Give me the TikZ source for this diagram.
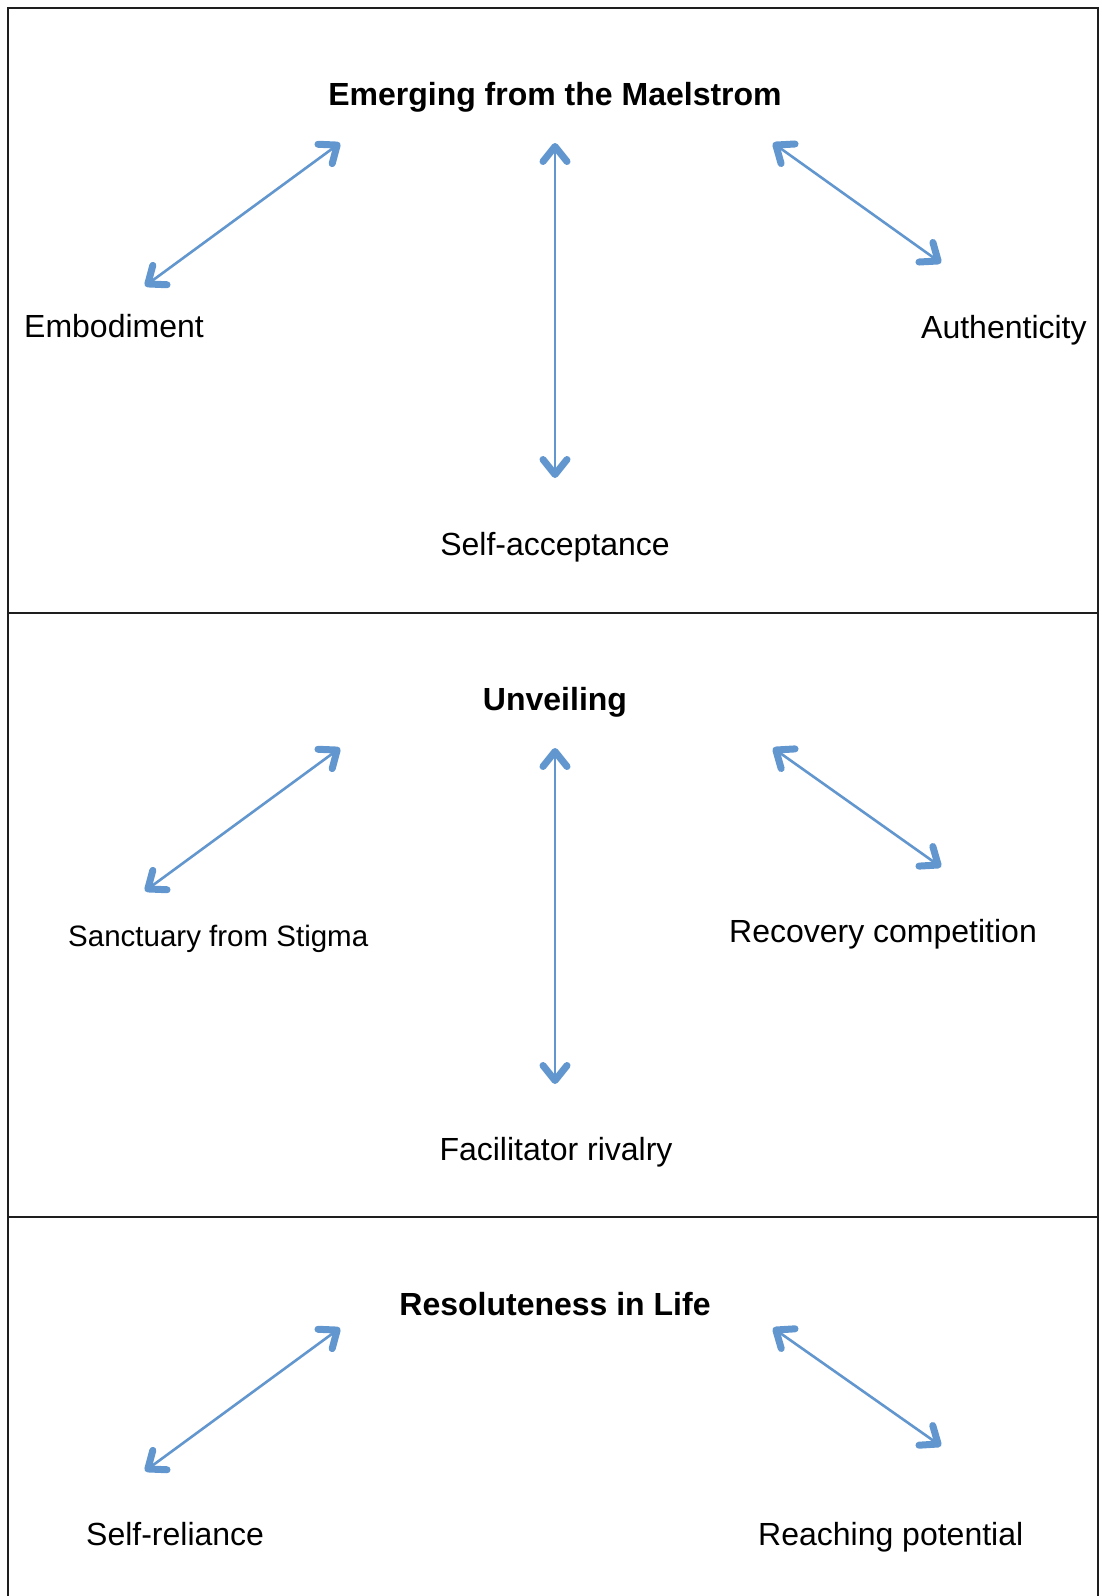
\documentclass[tikz,border=0pt]{standalone}
\usepackage{fontspec}
\setmainfont{Liberation Sans}
\usetikzlibrary{arrows.meta}
\definecolor{arrowblue}{RGB}{98,150,206}
\definecolor{framegray}{RGB}{30,30,30}
\tikzset{
  lbl/.style={inner sep=0pt, anchor=base west, font=\fontsize{32}{38}\selectfont, text=black},
  lblc/.style={inner sep=0pt, anchor=base, font=\fontsize{32}{38}\selectfont, text=black},
  ttl/.style={inner sep=0pt, anchor=base, font=\fontsize{32}{38}\selectfont\bfseries, text=black},
  barb/.tip={Straight Barb[length=15pt,width=24pt,line width=7pt,round]},
  dbl/.style={draw=arrowblue, line width=2.6pt, barb-barb},
  frame/.style={draw=framegray, line width=2pt}
}
\begin{document}
\begin{tikzpicture}[x=1pt,y=-1pt]
\useasboundingbox (0,0) rectangle (1101,1596);
% frame
\draw[frame] (8,1600) -- (8,8) -- (1098,8) -- (1098,1600);
\draw[frame] (8,613) -- (1098,613);
\draw[frame] (8,1217) -- (1098,1217);

% Section 1
\node[ttl] (t1) at (555,105) {Emerging from the Maelstrom};
\node[lbl] (emb) at (24,337) {Embodiment};
\node[lbl] (auth) at (921,338) {Authenticity};
\node[lblc] (sacc) at (555,555) {Self-acceptance};
\coordinate (a1l1) at (340,143); \coordinate (a1l2) at (145,286);
\coordinate (a1c1) at (555,143); \coordinate (a1c2) at (555,478);
\coordinate (a1r1) at (773,143); \coordinate (a1r2) at (941,263);
\draw[dbl] (a1l2) -- (a1l1);
\draw[dbl] (a1c2) -- (a1c1);
\draw[dbl] (a1r1) -- (a1r2);

% Section 2
\node[ttl] (t2) at (555,710) {Unveiling};
\node[lbl, font=\fontsize{29.5}{36}\selectfont] (sanc) at (68,946) {Sanctuary from Stigma};
\node[lbl] (rec) at (729,942) {Recovery competition};
\node[lblc] (fac) at (556,1160) {Facilitator rivalry};
\coordinate (a2l1) at (340,748); \coordinate (a2l2) at (145,891);
\coordinate (a2c1) at (555,748); \coordinate (a2c2) at (555,1084);
\coordinate (a2r1) at (773,748); \coordinate (a2r2) at (941,867);
\draw[dbl] (a2l2) -- (a2l1);
\draw[dbl] (a2c2) -- (a2c1);
\draw[dbl] (a2r1) -- (a2r2);

% Section 3
\node[ttl] (t3) at (555,1315) {Resoluteness in Life};
\node[lbl] (srel) at (86,1545) {Self-reliance};
\node[lbl] (reach) at (758,1545) {Reaching potential};
\coordinate (a3l1) at (340,1328); \coordinate (a3l2) at (145,1471);
\coordinate (a3r1) at (773,1328); \coordinate (a3r2) at (941,1446);
\draw[dbl] (a3l2) -- (a3l1);
\draw[dbl] (a3r1) -- (a3r2);
\end{tikzpicture}
\end{document}
